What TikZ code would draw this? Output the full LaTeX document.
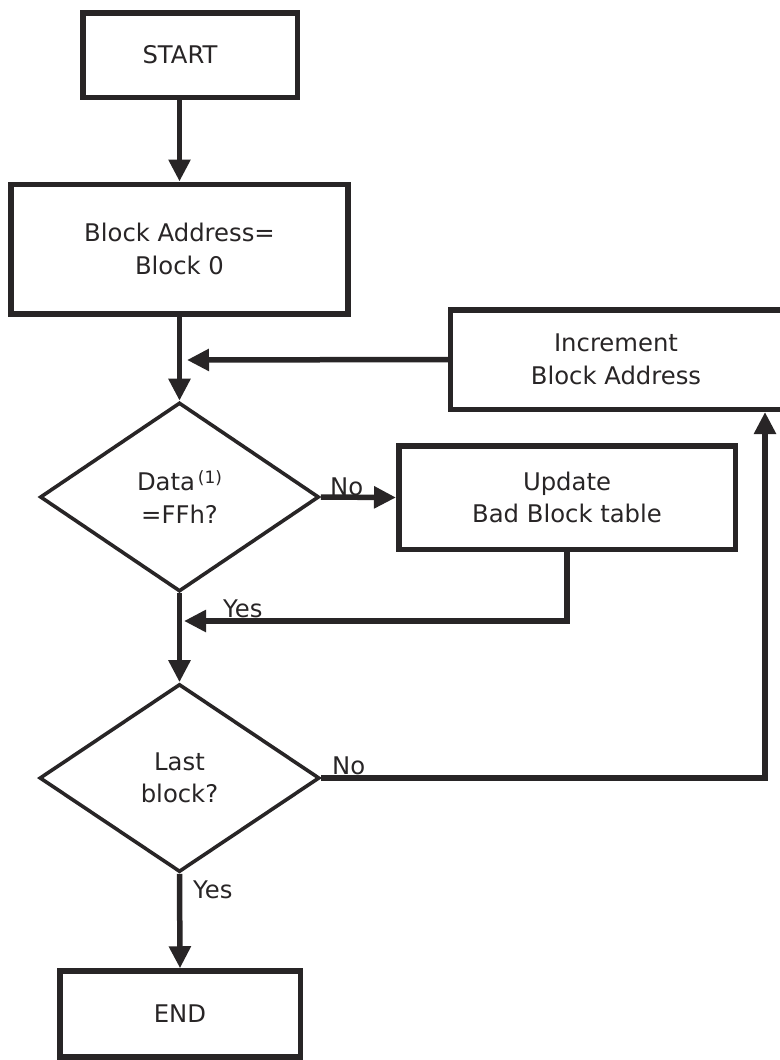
\documentclass[tikz,border=0pt]{standalone}
\usepackage{fontspec}
\setmainfont{DejaVu Sans}
\usetikzlibrary{shapes.geometric,arrows.meta}
\definecolor{ink}{RGB}{40,37,38}
\begin{document}
\begin{tikzpicture}[x=1pt,y=-1pt,
  font=\fontsize{24.3}{32.5}\selectfont,
  box/.style={draw=ink, line width=5.5pt, rectangle, inner sep=0pt, text=ink, align=center},
  dec/.style={draw=ink, line width=3.6pt, diamond, inner sep=0pt, text=ink, align=center},
  arr/.style={draw=ink, line width=5.5pt, -{Triangle[length=22pt,width=21pt]}},
  lbl/.style={text=ink, inner sep=0pt}]
\useasboundingbox (0,0) rectangle (779,1060);
\fill[white] (0,0) rectangle (779,1060);

% nodes
\node[box, minimum width=214.5pt, minimum height=84.5pt,
      label={[text=ink, xshift=-10pt]center:START}] (start) at (190,55) {};
\node[box, minimum width=337pt, minimum height=129.5pt] (blk) at (179.5,249) {Block Address=\\Block 0};
\node[box, minimum width=345pt, minimum height=99.5pt,
      label={[text=ink, align=center, xshift=-7pt]center:Increment\\Block Address}] (inc) at (623,359.5) {};
\node[dec, minimum width=279pt, minimum height=189pt] (d1) at (179.5,497)
      {Data\raisebox{7pt}{\fontsize{17}{17}\selectfont\,(1)}\\=FFh?};
\node[box, minimum width=336.5pt, minimum height=103.5pt] (upd) at (567,497.5) {Update\\Bad Block table};
\node[dec, minimum width=280pt, minimum height=188pt] (d2) at (179.5,778) {Last\\block?};
\node[box, minimum width=240.5pt, minimum height=86pt] (end) at (180,1014) {END};

% helper coordinates
\coordinate (j1) at (187,360);
\coordinate (j2) at (184,621);
\coordinate (upx) at (765,0);

% connectors
\draw[arr] (start.south -| blk.north) -- (blk.north);
\draw[arr] (blk.south) -- (d1.north);
\draw[arr] (inc.west) -- (j1);
\draw[arr] (d1.east) -- (upd.west);
\draw[arr] (upd.south) |- (j2);
\draw[arr] (d1.south) -- (d2.north);
\draw[arr] (d2.east) -| (inc.south -| upx);
\draw[arr] (d2.south) -- (end.north);

% labels
\node[lbl, anchor=base west] (no1) at (330,495) {No};
\node[lbl, anchor=base west] (yes1) at (223,617) {Yes};
\node[lbl, anchor=base west] (no2) at (332,774) {No};
\node[lbl, anchor=base west] (yes2) at (193,898) {Yes};
\end{tikzpicture}
\end{document}
